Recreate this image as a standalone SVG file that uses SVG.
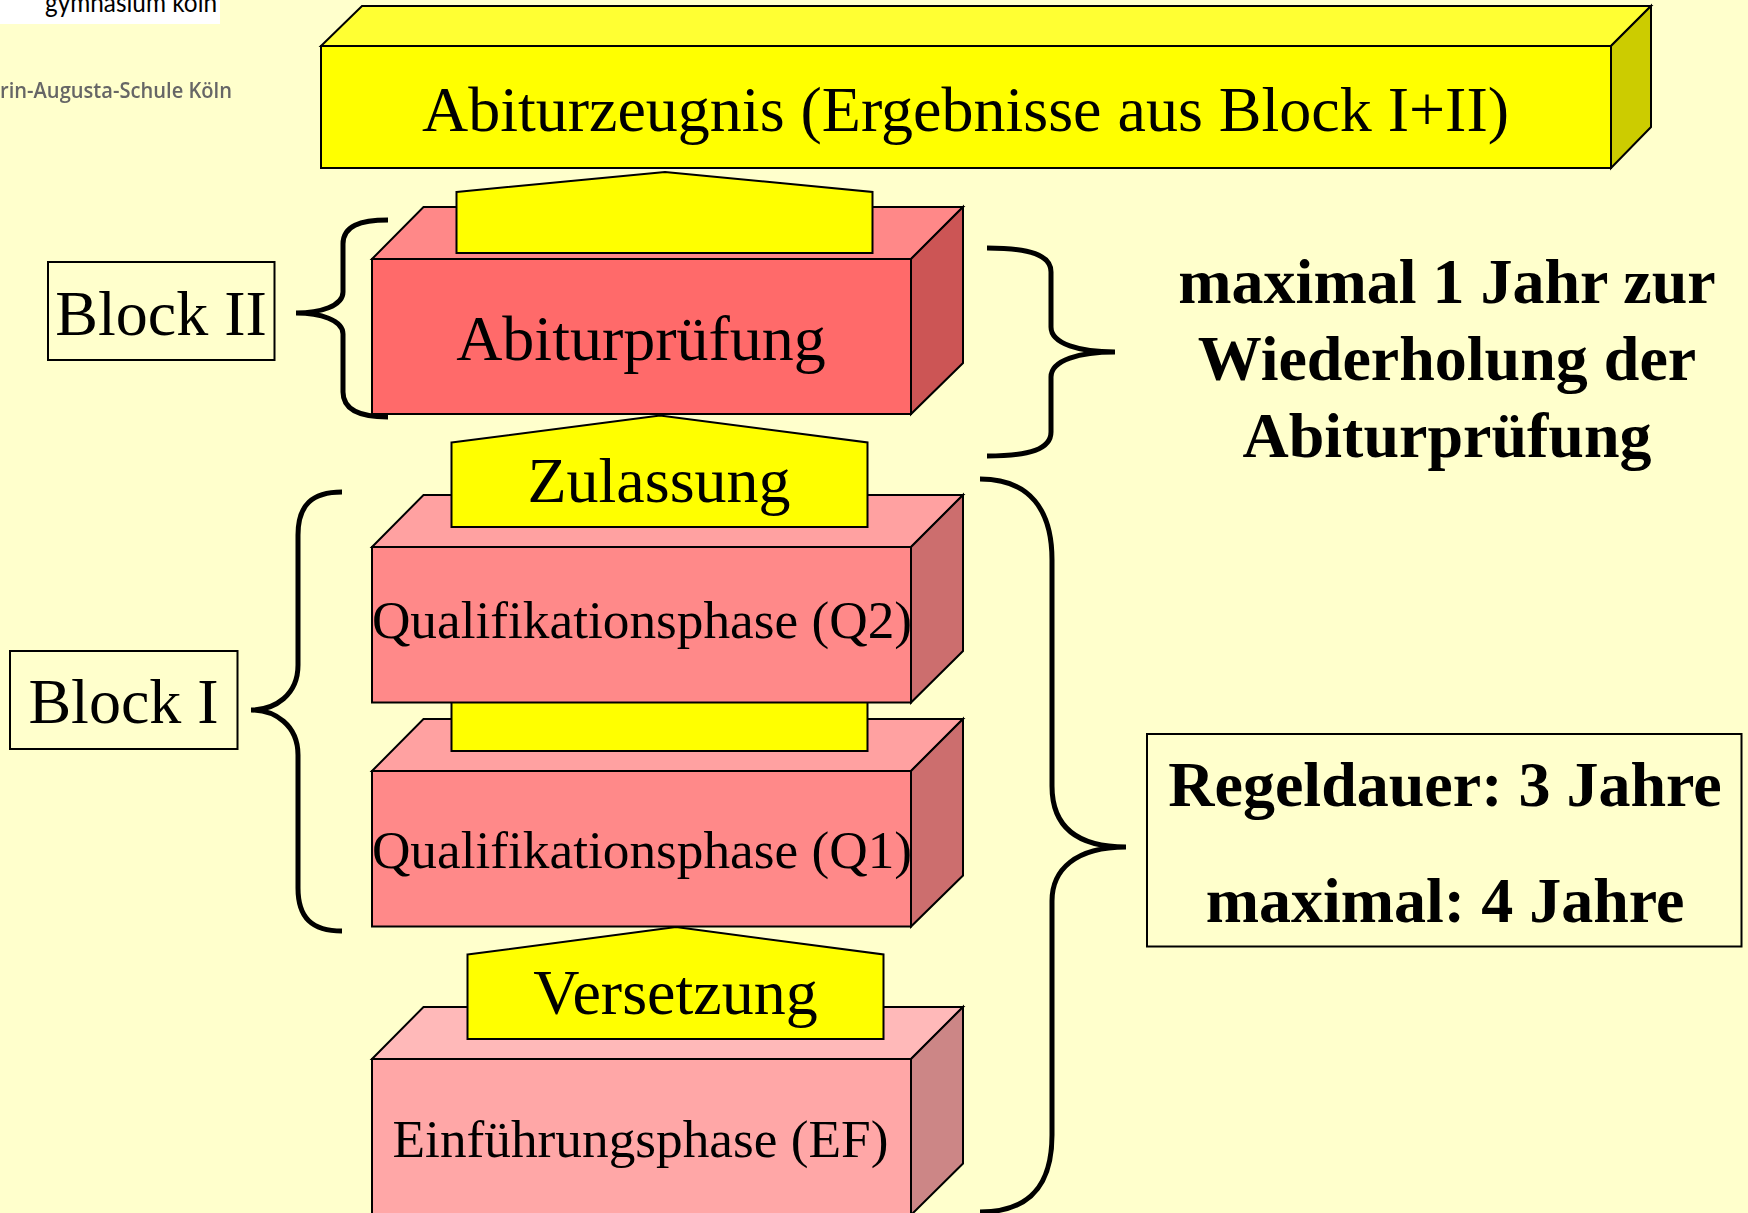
<svg xmlns="http://www.w3.org/2000/svg" width="1748" height="1213" viewBox="0 0 1748 1213">
<style>
.l{stroke:#000;stroke-width:2;stroke-linejoin:miter}
.b{fill:none;stroke:#000;stroke-width:5}
.y{fill:#FFFF00}
text{font-family:"Liberation Serif","Times New Roman",serif;fill:#000;text-anchor:middle}
</style>
<defs><filter id="soft" x="-5%" y="-20%" width="110%" height="140%"><feGaussianBlur stdDeviation="0.5"/></filter></defs>
<rect width="1748" height="1213" fill="#FFFFCC"/>
<g id="logo">
<rect x="0" y="0" width="220" height="24" fill="#fff"/>
<text x="45" y="12" textLength="172" lengthAdjust="spacingAndGlyphs" style="font-family:'Lato',sans-serif;font-size:26px;text-anchor:start">gymnasium köln</text>
<text x="0" y="98" textLength="232" lengthAdjust="spacingAndGlyphs" filter="url(#soft)" style="font-family:'Open Sans',sans-serif;font-size:22px;fill:#666;text-anchor:start;font-weight:600">rin-Augusta-Schule Köln</text>
</g>
<g id="abiturzeugnis">
<path class="l" fill="#FFFF33" d="M321 46L362 6H1651L1611 46Z"/>
<path class="l" fill="#CCCC00" d="M1611 46L1651 6V127L1611 168Z"/>
<rect class="l y" x="321" y="46" width="1290" height="122"/>
<text x="965.5" y="131" font-size="64">Abiturzeugnis (Ergebnisse aus Block I+II)</text>
</g>
<g id="abiturpruefung">
<path class="l" fill="#FF8888" d="M372 259L423.500 207H963L911 259Z"/>
<path class="l" fill="#CC5555" d="M911 259L963 207V363L911 414Z"/>
<rect class="l" fill="#FF6A6A" x="372" y="259" width="539" height="155"/>
<text x="641" y="360" font-size="64">Abiturprüfung</text>
</g>
<g id="house-abitur">
<path class="l y" d="M456.500 192L665 172L872.500 192V253H456.500Z"/>
</g>
<g id="q1">
<path class="l" fill="#FFA1A1" d="M372 771L423.500 719H963L911 771Z"/>
<path class="l" fill="#CC6E6E" d="M911 771L963 719V875.500L911 926.500Z"/>
<rect class="l" fill="#FF8989" x="372" y="771" width="539" height="155.500"/>
<text x="642" y="867.500" font-size="53.300">Qualifikationsphase (Q1)</text>
</g>
<g id="house-q">
<path class="l y" d="M451.500 680H867.500V751H451.500Z"/>
</g>
<g id="q2">
<path class="l" fill="#FFA1A1" d="M372 547L423.500 495H963L911 547Z"/>
<path class="l" fill="#CC6E6E" d="M911 547L963 495V651L911 702.500Z"/>
<rect class="l" fill="#FF8989" x="372" y="547" width="539" height="155.500"/>
<text x="642" y="637.500" font-size="53.300">Qualifikationsphase (Q2)</text>
</g>
<g id="zulassung">
<path class="l y" d="M451.500 442.500L660 415.500L867.500 442.500V527H451.500Z"/>
<text x="659" y="501.500" font-size="64">Zulassung</text>
</g>
<g id="ef">
<path class="l" fill="#FFB9B9" d="M372 1059L423.500 1007H963L911 1059Z"/>
<path class="l" fill="#CC8686" d="M911 1059L963 1007V1163.500L911 1215Z"/>
<rect class="l" fill="#FFA7A7" x="372" y="1059" width="539" height="170"/>
<text x="640.500" y="1157" font-size="53.300">Einführungsphase (EF)</text>
</g>
<g id="versetzung">
<path class="l y" d="M467.500 954.500L676 927L883.500 954.500V1039H467.500Z"/>
<text x="675.500" y="1013.500" font-size="64">Versetzung</text>
</g>
<g id="block2">
<rect class="l" fill="none" x="48" y="262" width="226.500" height="98"/>
<text x="161" y="334.500" font-size="64">Block II</text>
</g>
<g id="block1">
<rect class="l" fill="none" x="10" y="651" width="227.500" height="98"/>
<text x="123.500" y="722.500" font-size="64">Block I</text>
</g>
<g id="wiederholung">
<text x="1447" y="303" font-size="64" font-weight="bold">maximal 1 Jahr zur</text>
<text x="1447" y="380" font-size="64" font-weight="bold">Wiederholung der</text>
<text x="1447" y="457" font-size="64" font-weight="bold">Abiturprüfung</text>
</g>
<g id="regeldauer">
<rect class="l" fill="none" x="1147" y="734" width="594.500" height="212.500"/>
<text x="1445" y="806" font-size="64" font-weight="bold">Regeldauer: 3 Jahre</text>
<text x="1445" y="921.500" font-size="64" font-weight="bold">maximal: 4 Jahre</text>
</g>
<g id="connectors">
<path class="b" d="M388 220C360 220 343 226 343 244V292C343 306 320 313 296 313C320 313 343 320 343 334V392C343 410 360 417 388 417"/>
<path class="b" d="M987 248C1030 248 1051 255 1051 272V327C1051 344 1080 352 1115 352C1080 352 1051 360 1051 377V432C1051 449 1030 456 987 456"/>
<path class="b" d="M342 492C312 492 298 505 298 535V665C298 695 275 710 251 710C275 710 298 725 298 755V888C298 918 312 931 342 931"/>
<path class="b" d="M980 479C1030 479 1052 510 1052 560V786C1052 825 1075 847 1126 847C1075 847 1052 870 1052 901V1135C1052 1185 1030 1212 980 1212"/>
</g>
</svg>
